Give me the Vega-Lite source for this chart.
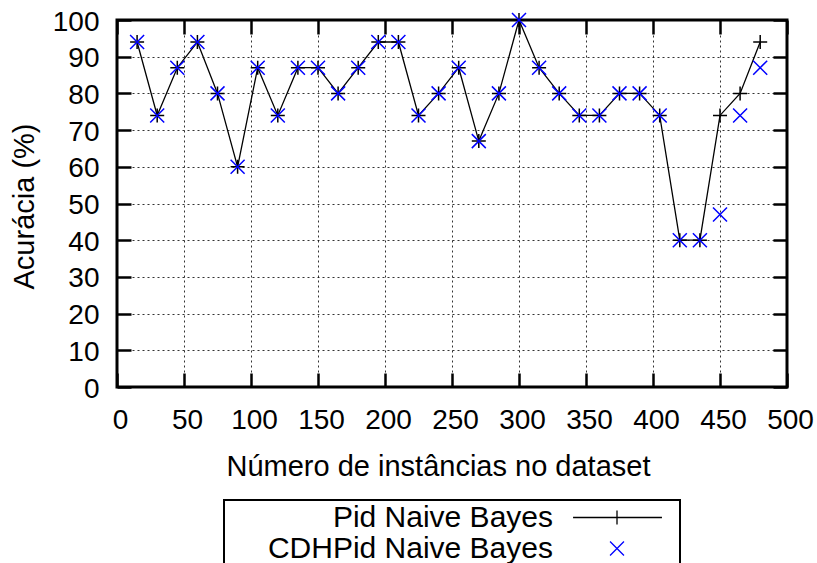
{
  "$schema": "https://vega.github.io/schema/vega-lite/v6.json",
  "width": 670,
  "height": 367,
  "autosize": {"type": "none"},
  "padding": {"left": 117, "top": 20, "right": 30, "bottom": 176},
  "config": {
    "font": "Liberation Sans",
    "view": {"stroke": "black", "strokeWidth": 3},
    "legend": {
      "orient": "none",
      "legendX": 107,
      "legendY": 480,
      "direction": "vertical",
      "padding": 2,
      "strokeColor": "black",
      "strokeWidth": 2,
      "labelFontSize": 30,
      "labelFont": "Liberation Sans",
      "labelColor": "black",
      "labelAlign": "right",
      "labelLimit": 500,
      "labelOffset": -79.5,
      "symbolOffset": 375.5,
      "symbolSize": 841,
      "symbolStrokeWidth": 1.3,
      "symbolOpacity": 1,
      "rowPadding": 0
    }
  },
  "data": {
    "values": [
      {"n": 15, "series": "Pid Naive Bayes", "acc": 94},
      {"n": 30, "series": "Pid Naive Bayes", "acc": 74},
      {"n": 45, "series": "Pid Naive Bayes", "acc": 87},
      {"n": 60, "series": "Pid Naive Bayes", "acc": 94},
      {"n": 75, "series": "Pid Naive Bayes", "acc": 80},
      {"n": 90, "series": "Pid Naive Bayes", "acc": 60},
      {"n": 105, "series": "Pid Naive Bayes", "acc": 87},
      {"n": 120, "series": "Pid Naive Bayes", "acc": 74},
      {"n": 135, "series": "Pid Naive Bayes", "acc": 87},
      {"n": 150, "series": "Pid Naive Bayes", "acc": 87},
      {"n": 165, "series": "Pid Naive Bayes", "acc": 80},
      {"n": 180, "series": "Pid Naive Bayes", "acc": 87},
      {"n": 195, "series": "Pid Naive Bayes", "acc": 94},
      {"n": 210, "series": "Pid Naive Bayes", "acc": 94},
      {"n": 225, "series": "Pid Naive Bayes", "acc": 74},
      {"n": 240, "series": "Pid Naive Bayes", "acc": 80},
      {"n": 255, "series": "Pid Naive Bayes", "acc": 87},
      {"n": 270, "series": "Pid Naive Bayes", "acc": 67},
      {"n": 285, "series": "Pid Naive Bayes", "acc": 80},
      {"n": 300, "series": "Pid Naive Bayes", "acc": 100},
      {"n": 315, "series": "Pid Naive Bayes", "acc": 87},
      {"n": 330, "series": "Pid Naive Bayes", "acc": 80},
      {"n": 345, "series": "Pid Naive Bayes", "acc": 74},
      {"n": 360, "series": "Pid Naive Bayes", "acc": 74},
      {"n": 375, "series": "Pid Naive Bayes", "acc": 80},
      {"n": 390, "series": "Pid Naive Bayes", "acc": 80},
      {"n": 405, "series": "Pid Naive Bayes", "acc": 74},
      {"n": 420, "series": "Pid Naive Bayes", "acc": 40},
      {"n": 435, "series": "Pid Naive Bayes", "acc": 40},
      {"n": 450, "series": "Pid Naive Bayes", "acc": 74},
      {"n": 465, "series": "Pid Naive Bayes", "acc": 80},
      {"n": 480, "series": "Pid Naive Bayes", "acc": 94},
      {"n": 15, "series": "CDHPid Naive Bayes", "acc": 94},
      {"n": 30, "series": "CDHPid Naive Bayes", "acc": 74},
      {"n": 45, "series": "CDHPid Naive Bayes", "acc": 87},
      {"n": 60, "series": "CDHPid Naive Bayes", "acc": 94},
      {"n": 75, "series": "CDHPid Naive Bayes", "acc": 80},
      {"n": 90, "series": "CDHPid Naive Bayes", "acc": 60},
      {"n": 105, "series": "CDHPid Naive Bayes", "acc": 87},
      {"n": 120, "series": "CDHPid Naive Bayes", "acc": 74},
      {"n": 135, "series": "CDHPid Naive Bayes", "acc": 87},
      {"n": 150, "series": "CDHPid Naive Bayes", "acc": 87},
      {"n": 165, "series": "CDHPid Naive Bayes", "acc": 80},
      {"n": 180, "series": "CDHPid Naive Bayes", "acc": 87},
      {"n": 195, "series": "CDHPid Naive Bayes", "acc": 94},
      {"n": 210, "series": "CDHPid Naive Bayes", "acc": 94},
      {"n": 225, "series": "CDHPid Naive Bayes", "acc": 74},
      {"n": 240, "series": "CDHPid Naive Bayes", "acc": 80},
      {"n": 255, "series": "CDHPid Naive Bayes", "acc": 87},
      {"n": 270, "series": "CDHPid Naive Bayes", "acc": 67},
      {"n": 285, "series": "CDHPid Naive Bayes", "acc": 80},
      {"n": 300, "series": "CDHPid Naive Bayes", "acc": 100},
      {"n": 315, "series": "CDHPid Naive Bayes", "acc": 87},
      {"n": 330, "series": "CDHPid Naive Bayes", "acc": 80},
      {"n": 345, "series": "CDHPid Naive Bayes", "acc": 74},
      {"n": 360, "series": "CDHPid Naive Bayes", "acc": 74},
      {"n": 375, "series": "CDHPid Naive Bayes", "acc": 80},
      {"n": 390, "series": "CDHPid Naive Bayes", "acc": 80},
      {"n": 405, "series": "CDHPid Naive Bayes", "acc": 74},
      {"n": 420, "series": "CDHPid Naive Bayes", "acc": 40},
      {"n": 435, "series": "CDHPid Naive Bayes", "acc": 40},
      {"n": 450, "series": "CDHPid Naive Bayes", "acc": 47},
      {"n": 465, "series": "CDHPid Naive Bayes", "acc": 74},
      {"n": 480, "series": "CDHPid Naive Bayes", "acc": 87}
    ]
  },
  "resolve": {"axis": {"x": "independent", "y": "independent"}},
  "layer": [
    {
      "transform": [{"filter": "datum.series === 'Pid Naive Bayes'"}],
      "mark": {"type": "line", "color": "black", "strokeWidth": 1.3},
      "encoding": {
        "x": {
          "field": "n", "type": "quantitative",
          "scale": {"domain": [0, 500], "nice": false, "zero": false},
          "axis": {
            "values": [0, 50, 100, 150, 200, 250, 300, 350, 400, 450, 500],
            "title": "Número de instâncias no dataset",
            "domain": false,
            "tickSize": -14, "tickWidth": 2.5, "tickColor": "black",
            "grid": true, "gridColor": "black", "gridDash": [2, 3], "gridWidth": 1, "gridOpacity": 0.8,
            "labelFontSize": 28, "labelColor": "black", "labelPadding": 33, "labelOffset": 3,
            "labelFlush": false, "labelOverlap": false,
            "titleFontSize": 29, "titleFontWeight": "normal", "titleColor": "black",
            "titleX": 321, "titleY": 88, "titleBaseline": "alphabetic", "titleAlign": "center", "titleAnchor": null
          }
        },
        "y": {
          "field": "acc", "type": "quantitative",
          "scale": {"domain": [0, 100], "nice": false},
          "axis": {
            "values": [0, 10, 20, 30, 40, 50, 60, 70, 80, 90, 100],
            "title": "Acurácia (%)",
            "domain": false,
            "tickSize": -14, "tickWidth": 2.5, "tickColor": "black",
            "grid": true, "gridColor": "black", "gridDash": [2, 3], "gridWidth": 1, "gridOpacity": 0.8,
            "labelFontSize": 28, "labelColor": "black", "labelPadding": 32, "labelOffset": 2,
            "labelBaseline": "middle", "labelFlush": false, "labelOverlap": false,
            "titleFontSize": 29, "titleFontWeight": "normal", "titleColor": "black",
            "titleX": -84, "titleY": 186, "titleAngle": -90, "titleBaseline": "alphabetic", "titleAlign": "center", "titleAnchor": null
          }
        }
      }
    },
    {
      "transform": [{"filter": "datum.series === 'Pid Naive Bayes'"}],
      "mark": {"type": "point", "shape": "M-1,0L1,0M0,-1L0,1", "size": 196, "filled": false, "color": "black", "strokeWidth": 1.5, "opacity": 1},
      "encoding": {
        "x": {"field": "n", "type": "quantitative", "axis": null},
        "y": {"field": "acc", "type": "quantitative", "axis": null}
      }
    },
    {
      "transform": [{"filter": "datum.series === 'CDHPid Naive Bayes'"}],
      "mark": {"type": "point", "shape": "M-1,-1L1,1M-1,1L1,-1", "size": 196, "filled": false, "color": "#0000ff", "strokeWidth": 1.5, "opacity": 1},
      "encoding": {
        "x": {"field": "n", "type": "quantitative", "axis": null},
        "y": {"field": "acc", "type": "quantitative", "axis": null}
      }
    },
    {
      "mark": {"type": "point", "filled": false, "opacity": 0},
      "encoding": {
        "x": {
          "field": "n", "type": "quantitative",
          "axis": {
            "orient": "top", "values": [0, 50, 100, 150, 200, 250, 300, 350, 400, 450, 500],
            "labels": false, "title": null, "grid": false, "domain": false,
            "tickSize": -14, "tickWidth": 2.5, "tickColor": "black"
          }
        },
        "y": {
          "field": "acc", "type": "quantitative",
          "axis": {
            "orient": "right", "values": [0, 10, 20, 30, 40, 50, 60, 70, 80, 90, 100],
            "labels": false, "title": null, "grid": false, "domain": false,
            "tickSize": -14, "tickWidth": 2.5, "tickColor": "black"
          }
        },
        "color": {
          "field": "series", "type": "nominal",
          "scale": {"domain": ["Pid Naive Bayes", "CDHPid Naive Bayes"], "range": ["black", "#0000ff"]},
          "legend": {"title": null}
        },
        "shape": {
          "field": "series", "type": "nominal",
          "scale": {"domain": ["Pid Naive Bayes", "CDHPid Naive Bayes"], "range": ["M-3.03,0L3.1,0M0,-0.48L0,0.48M4,0", "M-0.48,-0.48L0.48,0.48M-0.48,0.48L0.48,-0.48"]},
          "legend": {"title": null}
        }
      }
    }
  ]
}
